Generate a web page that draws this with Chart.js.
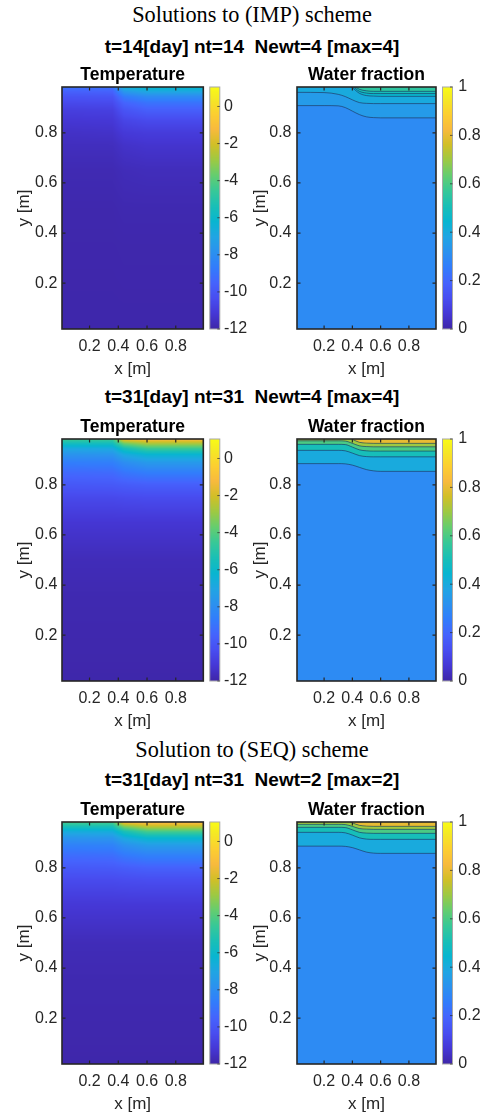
<!DOCTYPE html>
<html>
<head>
<meta charset="utf-8">
<script src="https://cdn.jsdelivr.net/npm/chart.js@4.4.1/dist/chart.umd.min.js"></script>
<style>
  html,body{margin:0;padding:0;background:#fff}
  body{position:relative;width:480px;height:1118px;overflow:hidden}
  .head{position:absolute;left:12px;width:480px;text-align:center;color:#000;white-space:pre}
  .serif{font:22.3px/26px "Liberation Serif","Times New Roman",serif}
  .bold{font:bold 19px/22px "Liberation Sans",Arial,sans-serif}
  canvas{position:absolute}
</style>
</head>
<body>
<div class="head serif" style="top:2px">Solutions to (IMP) scheme</div>
<div class="head bold" style="top:35.7px">t=14[day] nt=14  Newt=4 [max=4]</div>
<div class="head bold" style="top:385.7px">t=31[day] nt=31  Newt=4 [max=4]</div>
<div class="head serif" style="top:737px">Solution to (SEQ) scheme</div>
<div class="head bold" style="top:769px">t=31[day] nt=31  Newt=2 [max=2]</div>
<script>
'use strict';
// ═════ données ═════
const xLimits = [0.0083, 0.9917];
const yLimits = [0.0167, 0.9833];
const axisTicks = [0.2, 0.4, 0.6, 0.8];
const tempLimits = [-12, 1.05];
const tempTicks = [-12, -10, -8, -6, -4, -2, 0];
const fracLimits = [0, 1];
const fracTicks = [0, 0.2, 0.4, 0.6, 0.8, 1];

// Temperature : colonnes = tempX, lignes = tempY (haut -> bas)
const tempX = [0.0083, 0.36, 0.44, 0.6, 0.9917];
const tempY = [0.9833, 0.965, 0.945, 0.92, 0.89, 0.85, 0.8, 0.75, 0.65, 0.5, 0.35, 0.0167];
const tempImp14 = [
  [-9.0, -9.0, -6.4, -6.0, -6.0],
  [-9.6, -9.55, -7.6, -6.9, -6.9],
  [-10.1, -10.05, -8.7, -8.1, -8.1],
  [-10.5, -10.45, -9.5, -9.0, -9.0],
  [-10.9, -10.85, -10.1, -9.7, -9.7],
  [-11.2, -11.15, -10.65, -10.45, -10.45],
  [-11.45, -11.4, -11.1, -11.0, -11.0],
  [-11.6, -11.6, -11.4, -11.3, -11.3],
  [-11.8, -11.8, -11.7, -11.65, -11.65],
  [-11.9, -11.9, -11.85, -11.85, -11.85],
  [-11.93, -11.93, -11.92, -11.92, -11.92],
  [-11.95, -11.95, -11.95, -11.95, -11.95]
];
const tempImp31 = [
  [-4.4, -4.4, -1.3, -1.0, -1.0],
  [-5.6, -5.6, -3.6, -2.7, -2.7],
  [-6.9, -6.85, -5.5, -4.5, -4.5],
  [-7.8, -7.75, -6.9, -6.3, -6.3],
  [-8.6, -8.55, -8.0, -7.5, -7.5],
  [-9.3, -9.25, -8.9, -8.6, -8.6],
  [-9.95, -9.9, -9.8, -9.7, -9.7],
  [-10.5, -10.5, -10.45, -10.4, -10.4],
  [-11.2, -11.2, -11.2, -11.2, -11.2],
  [-11.7, -11.7, -11.7, -11.7, -11.7],
  [-11.85, -11.85, -11.85, -11.85, -11.85],
  [-11.95, -11.95, -11.95, -11.95, -11.95]
];
const tempSeq31 = [
  [-4.2, -4.2, -1.1, -0.8, -0.8],
  [-5.4, -5.4, -3.4, -2.4, -2.4],
  [-6.7, -6.65, -5.4, -4.3, -4.3],
  [-7.7, -7.65, -6.8, -6.1, -6.1],
  [-8.5, -8.45, -7.9, -7.4, -7.4],
  [-9.2, -9.15, -8.8, -8.5, -8.5],
  [-9.9, -9.85, -9.75, -9.6, -9.6],
  [-10.45, -10.45, -10.4, -10.35, -10.35],
  [-11.15, -11.15, -11.15, -11.15, -11.15],
  [-11.7, -11.7, -11.7, -11.7, -11.7],
  [-11.85, -11.85, -11.85, -11.85, -11.85],
  [-11.95, -11.95, -11.95, -11.95, -11.95]
];

// Water fraction : courbes de niveau (y lu en chaque wfX)
const wfX = [0.0083, 0.2, 0.3, 0.35, 0.4, 0.45, 0.5, 0.55, 0.6, 0.8, 0.9917];
const wfImp14Bulk = 0.3;
const wfImp14Levels = [0.35, 0.4, 0.45, 0.5, 0.55];
const wfImp14Lines = [
  [0.909, 0.909, 0.908, 0.901, 0.887, 0.873, 0.864, 0.861, 0.860, 0.860, 0.860],
  [0.962, 0.961, 0.954, 0.945, 0.932, 0.921, 0.918, 0.917, 0.917, 0.917, 0.917],
  [0.995, 0.995, 0.995, 0.994, 0.980, 0.958, 0.949, 0.947, 0.946, 0.946, 0.946],
  [0.995, 0.995, 0.995, 0.995, 0.986, 0.966, 0.959, 0.957, 0.957, 0.957, 0.957],
  [0.995, 0.995, 0.995, 0.995, 0.990, 0.974, 0.968, 0.966, 0.966, 0.966, 0.966]
];
const wfImp31Bulk = 0.3;
const wfImp31Levels = [0.4, 0.5, 0.6, 0.7, 0.8];
const wfImp31Lines = [
  [0.885, 0.885, 0.885, 0.884, 0.879, 0.870, 0.861, 0.856, 0.854, 0.854, 0.854],
  [0.938, 0.938, 0.938, 0.936, 0.927, 0.917, 0.913, 0.912, 0.912, 0.912, 0.912],
  [0.962, 0.962, 0.962, 0.961, 0.951, 0.940, 0.936, 0.935, 0.935, 0.935, 0.935],
  [0.976, 0.976, 0.976, 0.975, 0.966, 0.956, 0.953, 0.952, 0.952, 0.952, 0.952],
  [0.995, 0.995, 0.995, 0.995, 0.982, 0.970, 0.967, 0.966, 0.966, 0.966, 0.966]
];
const wfSeq31Bulk = 0.3;
const wfSeq31Levels = [0.4, 0.5, 0.6, 0.7, 0.8];
const wfSeq31Lines = [
  [0.887, 0.887, 0.887, 0.886, 0.881, 0.872, 0.863, 0.859, 0.858, 0.858, 0.858],
  [0.942, 0.942, 0.942, 0.940, 0.931, 0.920, 0.915, 0.914, 0.914, 0.914, 0.914],
  [0.962, 0.962, 0.962, 0.961, 0.952, 0.942, 0.939, 0.938, 0.938, 0.938, 0.938],
  [0.974, 0.974, 0.974, 0.973, 0.966, 0.957, 0.955, 0.954, 0.954, 0.954, 0.954],
  [0.995, 0.995, 0.995, 0.992, 0.980, 0.970, 0.967, 0.966, 0.966, 0.966, 0.966]
];

// ═════ palette parula (MATLAB) ═════
const parulaT = [0, 4, 8, 12, 16, 20, 24, 28, 32, 36, 40, 44, 48, 52, 56, 60, 63].map(i => i / 63);
const parulaC = [
  [62,38,168],[69,55,213],[72,77,240],[69,99,253],[50,124,252],[43,145,239],[32,165,227],[8,181,208],
  [25,191,182],[55,200,151],[100,205,111],[157,201,67],[209,191,39],[248,186,61],[252,207,48],[245,233,36],[249,251,21]
];
function cmap(t) {
  t = Math.min(1, Math.max(0, t));
  let i = 0;
  while (i < parulaT.length - 2 && t > parulaT[i + 1]) i++;
  const f = (t - parulaT[i]) / (parulaT[i + 1] - parulaT[i]), a = parulaC[i], b = parulaC[i + 1];
  return [0, 1, 2].map(k => Math.round(a[k] + (b[k] - a[k]) * f));
}
const rgb = c => `rgb(${c[0]},${c[1]},${c[2]})`;

function locate(nodes, v) {
  const n = nodes.length, asc = nodes[n - 1] > nodes[0];
  for (let i = 0; i < n - 1; i++) {
    const a = nodes[i], b = nodes[i + 1];
    if ((asc && v <= b) || (!asc && v >= b)) return [i, Math.min(1, Math.max(0, (v - a) / (b - a)))];
  }
  return [n - 2, 1];
}
function sample(grid, xv, yv) {
  const [i, fx] = locate(tempX, xv), [j, fy] = locate(tempY, yv);
  const r0 = grid[j], r1 = grid[j + 1];
  const top = r0[i] + (r0[i + 1] - r0[i]) * fx, bot = r1[i] + (r1[i + 1] - r1[i]) * fx;
  return top + (bot - top) * fy;
}

// champ interpolé (shading interp), peint pixel par pixel à travers les échelles
function paintField(chart, grid) {
  const {ctx, chartArea: a, scales: {x, y}} = chart;
  const l = Math.round(a.left), t = Math.round(a.top);
  const w = Math.round(a.right) - l, h = Math.round(a.bottom) - t;
  const off = document.createElement('canvas'); off.width = w; off.height = h;
  const octx = off.getContext('2d'), img = octx.createImageData(w, h);
  for (let j = 0; j < h; j++) {
    const yv = y.getValueForPixel(t + j + 0.5);
    for (let i = 0; i < w; i++) {
      const xv = x.getValueForPixel(l + i + 0.5);
      const c = cmap((sample(grid, xv, yv) - tempLimits[0]) / (tempLimits[1] - tempLimits[0]));
      const p = (j * w + i) * 4;
      img.data[p] = c[0]; img.data[p + 1] = c[1]; img.data[p + 2] = c[2]; img.data[p + 3] = 255;
    }
  }
  octx.putImageData(img, 0, 0);
  ctx.drawImage(off, l, t);
}

function paintColorbar(chart, lim, ticks) {
  const {ctx, chartArea: a, scales: {cb}} = chart;
  const x0 = a.right + 6.5, w = 10;
  ctx.save();
  for (let py = Math.floor(a.top); py < Math.ceil(a.bottom); py++) {
    const v = cb.getValueForPixel(py + 0.5);
    ctx.fillStyle = rgb(cmap((v - lim[0]) / (lim[1] - lim[0])));
    ctx.fillRect(x0, py, w, 1);
  }
  ctx.strokeStyle = '#a8a8a8'; ctx.lineWidth = 1;
  ctx.strokeRect(x0, a.top, w, a.bottom - a.top);
  ctx.strokeStyle = 'rgba(38,38,38,0.7)';
  ticks.forEach(v => {
    const py = cb.getPixelForValue(v);
    ctx.beginPath(); ctx.moveTo(x0 + w, py); ctx.lineTo(x0 + w - 2.5, py); ctx.stroke();
  });
  ctx.restore();
}

function paintBox(chart) {
  const {ctx, chartArea: a, scales: {x, y}} = chart;
  ctx.save();
  ctx.strokeStyle = '#262626'; ctx.lineWidth = 1.2;
  axisTicks.forEach(v => {
    const px = x.getPixelForValue(v), py = y.getPixelForValue(v);
    ctx.beginPath();
    ctx.moveTo(px, a.bottom); ctx.lineTo(px, a.bottom - 3.5);
    ctx.moveTo(px, a.top); ctx.lineTo(px, a.top + 3.5);
    ctx.moveTo(a.left, py); ctx.lineTo(a.left + 3.5, py);
    ctx.moveTo(a.right, py); ctx.lineTo(a.right - 3.5, py);
    ctx.stroke();
  });
  ctx.lineWidth = 1.6;
  ctx.strokeRect(a.left, a.top, a.right - a.left, a.bottom - a.top);
  ctx.restore();
}

function framePlugin(spec) {
  return {
    id: 'matlabFrame',
    beforeDraw(chart) {
      const {ctx, chartArea: a} = chart;
      if (spec.grid) paintField(chart, spec.grid);
      if (spec.bulk != null) {
        ctx.save(); ctx.fillStyle = rgb(cmap(spec.bulk));
        ctx.fillRect(a.left, a.top, a.right - a.left, a.bottom - a.top); ctx.restore();
      }
    },
    afterDraw(chart) {
      paintColorbar(chart, spec.cbLim, spec.cbTicks);
      paintBox(chart);
    }
  };
}

function makeScales(g, cbLim, cbTicks) {
  const tickFont = {size: 16}, labFont = {size: 17};
  return {
    x: {
      type: 'linear', position: 'bottom', min: xLimits[0], max: xLimits[1],
      afterBuildTicks: s => { s.ticks = axisTicks.map(v => ({value: v})); },
      afterFit: s => { s.height = 55; },
      grid: {display: false, drawTicks: false}, border: {display: false},
      ticks: {font: tickFont, color: '#262626', padding: 7.5, maxRotation: 0, autoSkip: false, callback: v => String(v)},
      title: {display: true, text: 'x [m]', font: labFont, color: '#262626', padding: {top: 0, bottom: 4.8}}
    },
    y: {
      type: 'linear', position: 'left', min: yLimits[0], max: yLimits[1],
      afterBuildTicks: s => { s.ticks = axisTicks.map(v => ({value: v})); },
      afterFit: s => { s.width = g.yw; },
      grid: {display: false, drawTicks: false}, border: {display: false},
      ticks: {font: tickFont, color: '#262626', padding: g.ypad, autoSkip: false, callback: v => String(v)},
      title: {display: true, text: 'y [m]', font: labFont, color: '#262626', padding: {top: g.ytitle, bottom: 0}}
    },
    cb: {
      type: 'linear', position: 'right', min: cbLim[0], max: cbLim[1],
      afterBuildTicks: s => { s.ticks = cbTicks.map(v => ({value: v})); },
      afterFit: s => { s.width = g.cbw; },
      grid: {display: false, drawTicks: false}, border: {display: false},
      ticks: {font: tickFont, color: '#262626', padding: g.cbpad, autoSkip: false, callback: v => String(v)}
    }
  };
}

function panelOptions(title, g, cbLim, cbTicks) {
  return {
    responsive: false, animation: false, events: [],
    layout: {padding: 0},
    scales: makeScales(g, cbLim, cbTicks),
    plugins: {
      legend: {display: false}, tooltip: {enabled: false},
      filler: {drawTime: 'beforeDatasetsDraw'},
      title: {display: true, text: title, fullSize: false, color: '#000',
              font: {size: 17.5, weight: 'bold'}, padding: {top: 12.2, bottom: 1.8}}
    }
  };
}

function addCanvas(left, top, width) {
  const c = document.createElement('canvas');
  c.width = width; c.height = 332;
  c.style.left = left + 'px'; c.style.top = top + 'px';
  document.body.appendChild(c);
  return c;
}

const tempGeom = {width: 262, yw: 62, ypad: 4.7, ytitle: 13.8, cbw: 58.7, cbpad: 20.7};
const wfGeom = {width: 240, yw: 57, ypad: 5.5, ytitle: 9.8, cbw: 44, cbpad: 22.3};

const rows = [
  {plotTop: 87.3, temp: tempImp14, bulk: wfImp14Bulk, levels: wfImp14Levels, lines: wfImp14Lines},
  {plotTop: 439.3, temp: tempImp31, bulk: wfImp31Bulk, levels: wfImp31Levels, lines: wfImp31Lines},
  {plotTop: 822, temp: tempSeq31, bulk: wfSeq31Bulk, levels: wfSeq31Levels, lines: wfSeq31Lines}
];

rows.forEach(r => {
  new Chart(addCanvas(0, r.plotTop - 35, tempGeom.width), {
    type: 'scatter',
    data: {datasets: []},
    options: panelOptions('Temperature', tempGeom, tempLimits, tempTicks),
    plugins: [framePlugin({grid: r.temp, cbLim: tempLimits, cbTicks: tempTicks})]
  });
  new Chart(addCanvas(240, r.plotTop - 35, wfGeom.width), {
    type: 'line',
    data: {
      datasets: r.levels.map((lv, k) => ({
        data: wfX.map((x, i) => ({x, y: r.lines[k][i]})),
        fill: k < r.levels.length - 1 ? '+1' : 'end',
        backgroundColor: rgb(cmap((lv - fracLimits[0]) / (fracLimits[1] - fracLimits[0]))),
        borderColor: 'rgba(25,35,55,0.75)', borderWidth: 0.7,
        pointRadius: 0, cubicInterpolationMode: 'monotone', clip: 0
      }))
    },
    options: panelOptions('Water fraction', wfGeom, fracLimits, fracTicks),
    plugins: [framePlugin({bulk: r.bulk, cbLim: fracLimits, cbTicks: fracTicks})]
  });
});
</script>
</body>
</html>
